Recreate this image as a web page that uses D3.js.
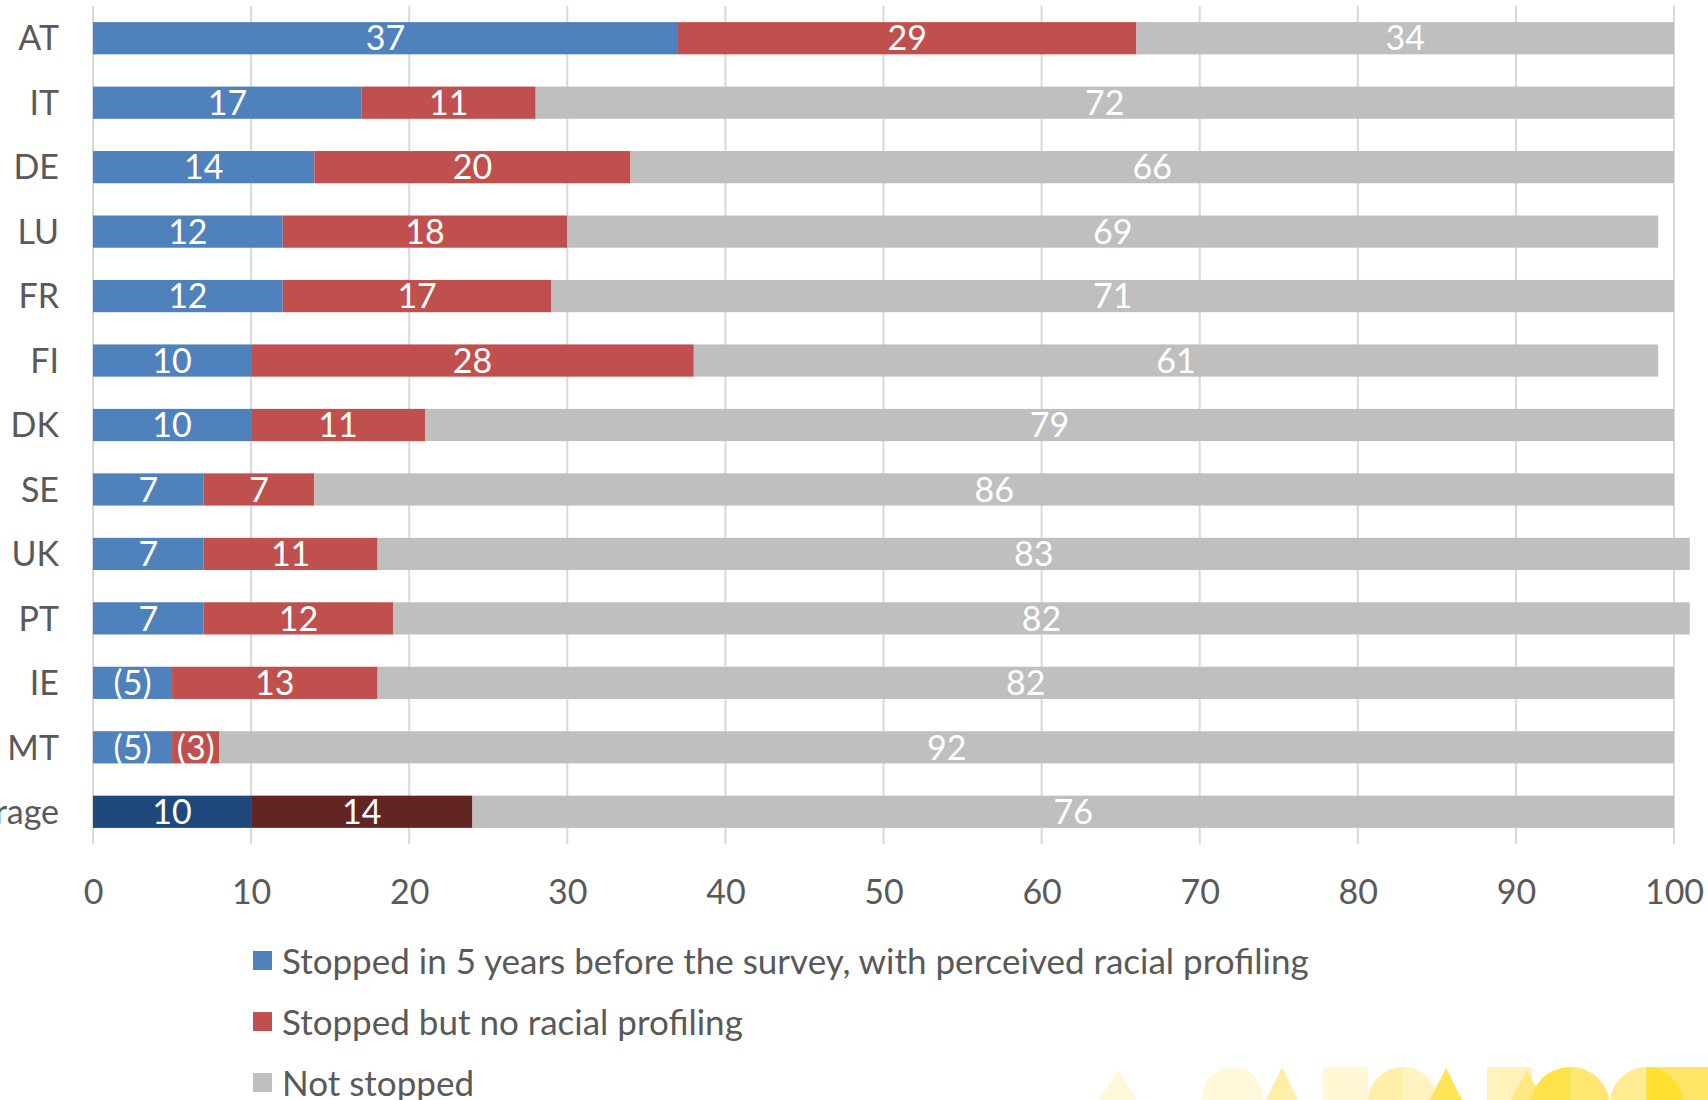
<!DOCTYPE html>
<html>
<head>
<meta charset="utf-8">
<script src="https://cdn.jsdelivr.net/npm/d3@7"></script>
<style>
  html, body { margin: 0; padding: 0; background: #ffffff; }
  svg { display: block; font-family: Lato, "Open Sans", sans-serif; }
</style>
</head>
<body>
<svg id="chart" width="1708" height="1100"></svg>
<script>
// Countries, top to bottom
const countries = ["AT", "IT", "DE", "LU", "FR", "FI", "DK", "SE", "UK", "PT", "IE", "MT", "Average"];
// Stopped in 5 years before the survey, with perceived racial profiling (%)
const profiled = [37, 17, 14, 12, 12, 10, 10, 7, 7, 7, 5, 5, 10];
// Stopped but no racial profiling (%)
const stoppedNoProfiling = [29, 11, 20, 18, 17, 28, 11, 7, 11, 12, 13, 3, 14];
// Not stopped (%)
const notStopped = [34, 72, 66, 69, 71, 61, 79, 86, 83, 82, 82, 92, 76];
// Values shown in brackets (small sample)
const bracketed = { "IE": [true, false, false], "MT": [true, true, false] };
const xTicks = [0, 10, 20, 30, 40, 50, 60, 70, 80, 90, 100];
const seriesNames = [
  "Stopped in 5 years before the survey, with perceived racial profiling",
  "Stopped but no racial profiling",
  "Not stopped"
];

const colors = ["#4F81BD", "#C0504D", "#BFBFBF"];
const avgColors = ["#1F497D", "#632523", "#BFBFBF"];
const textGrey = "#595959";
const fontSize = 34;

const svg = d3.select("#chart");
const x = d3.scaleLinear().domain([0, 100]).range([93, 1674]);
const y = d3.scaleBand().domain(countries).range([6, 844]).paddingInner(0.5).paddingOuter(0.25);

// gridlines
svg.append("g")
  .selectAll("line")
  .data(xTicks)
  .join("line")
  .attr("x1", d => x(d)).attr("x2", d => x(d))
  .attr("y1", 6).attr("y2", 844)
  .attr("stroke", "#D9D9D9").attr("stroke-width", 2);

// stacked data
const rows = countries.map((c, i) => ({ c, v: [profiled[i], stoppedNoProfiling[i], notStopped[i]] }));
const stacked = d3.stack().keys([0, 1, 2]).value((d, k) => d.v[k])(rows);

const segs = svg.append("g");
stacked.forEach((layer, k) => {
  layer.forEach(s => {
    const c = s.data.c;
    segs.append("rect")
      .attr("x", x(s[0]))
      .attr("y", y(c))
      .attr("width", x(s[1]) - x(s[0]))
      .attr("height", y.bandwidth())
      .attr("fill", c === "Average" ? avgColors[k] : colors[k]);
  });
});

// value labels
const labels = svg.append("g")
  .attr("font-size", fontSize).attr("fill", "#ffffff").attr("text-anchor", "middle");
stacked.forEach((layer, k) => {
  layer.forEach(s => {
    const c = s.data.c;
    const v = s.data.v[k];
    const br = bracketed[c] && bracketed[c][k];
    labels.append("text")
      .attr("x", (x(s[0]) + x(s[1])) / 2)
      .attr("y", y(c) + y.bandwidth() / 2)
      .attr("dy", "0.36em")
      .text(br ? `(${v})` : v);
  });
});

// category axis (long label runs off the left edge)
const yAxis = svg.append("g")
  .attr("transform", `translate(${x(0)},0)`)
  .call(d3.axisLeft(y).tickSize(0).tickPadding(34));
yAxis.select(".domain").remove();
yAxis.selectAll("text").attr("font-size", fontSize).attr("fill", textGrey)
  .attr("font-family", "Lato, sans-serif").attr("dy", "0.36em");

// value axis
const xAxis = svg.append("g")
  .attr("transform", "translate(0,844)")
  .call(d3.axisBottom(x).tickValues(xTicks).tickSize(0).tickPadding(36));
xAxis.select(".domain").remove();
xAxis.selectAll("text").attr("font-size", fontSize).attr("fill", textGrey).attr("font-family", "Lato, sans-serif");

// legend
const legend = svg.append("g").attr("transform", "translate(253,0)");
const legendY = [961, 1022, 1083];
seriesNames.forEach((name, i) => {
  legend.append("rect")
    .attr("x", 0).attr("y", legendY[i] - 10)
    .attr("width", 19).attr("height", 19)
    .attr("fill", colors[i]);
  legend.append("text")
    .attr("x", 29).attr("y", legendY[i])
    .attr("dy", "0.36em")
    .attr("font-size", 35).attr("fill", textGrey)
    .text(name);
});

// faint yellow emblem shapes along the bottom edge
const deco = svg.append("g");
const tri = (cx, w, top, fill) => deco.append("path")
  .attr("d", `M${cx - w / 2},1100 L${cx},${top} L${cx + w / 2},1100 Z`).attr("fill", fill);
const arch = (x0, x1, top, fill) => {
  const r = (x1 - x0) / 2;
  deco.append("path")
    .attr("d", `M${x0},1100 L${x0},${top + r} A${r},${r} 0 0 1 ${x1},${top + r} L${x1},1100 Z`).attr("fill", fill);
};
const halfArch = (x0, x1, top, fill) => {
  // right half of an arch spanning x0..x1
  const r = (x1 - x0) / 2, cx = x0 + r;
  deco.append("path")
    .attr("d", `M${cx},1100 L${cx},${top} A${r},${r} 0 0 1 ${x1},${top + r} L${x1},1100 Z`).attr("fill", fill);
};
deco.append("rect").attr("x", 1323).attr("y", 1067).attr("width", 45).attr("height", 33).attr("fill", "#FFF6D2");
deco.append("rect").attr("x", 1487).attr("y", 1067).attr("width", 45).attr("height", 33).attr("fill", "#FFF2BA");
deco.append("rect").attr("x", 1650).attr("y", 1067).attr("width", 58).attr("height", 33).attr("fill", "#FFE466");
tri(1118, 38, 1070, "#FFF8D8");
arch(1202, 1263, 1067, "#FFF8DA");
tri(1282, 32, 1067, "#FFEFA6");
arch(1368, 1437, 1067, "#FFEFA8");
halfArch(1368, 1437, 1067, "#FFF3C0");
tri(1446, 32, 1068, "#FFE458");
tri(1527, 32, 1070, "#FFE880");
arch(1530, 1610, 1067, "#FFE24A");
halfArch(1530, 1610, 1067, "#FFE670");
arch(1610, 1683, 1067, "#FFEC90");
halfArch(1610, 1683, 1067, "#FFE030");
</script>
</body>
</html>
